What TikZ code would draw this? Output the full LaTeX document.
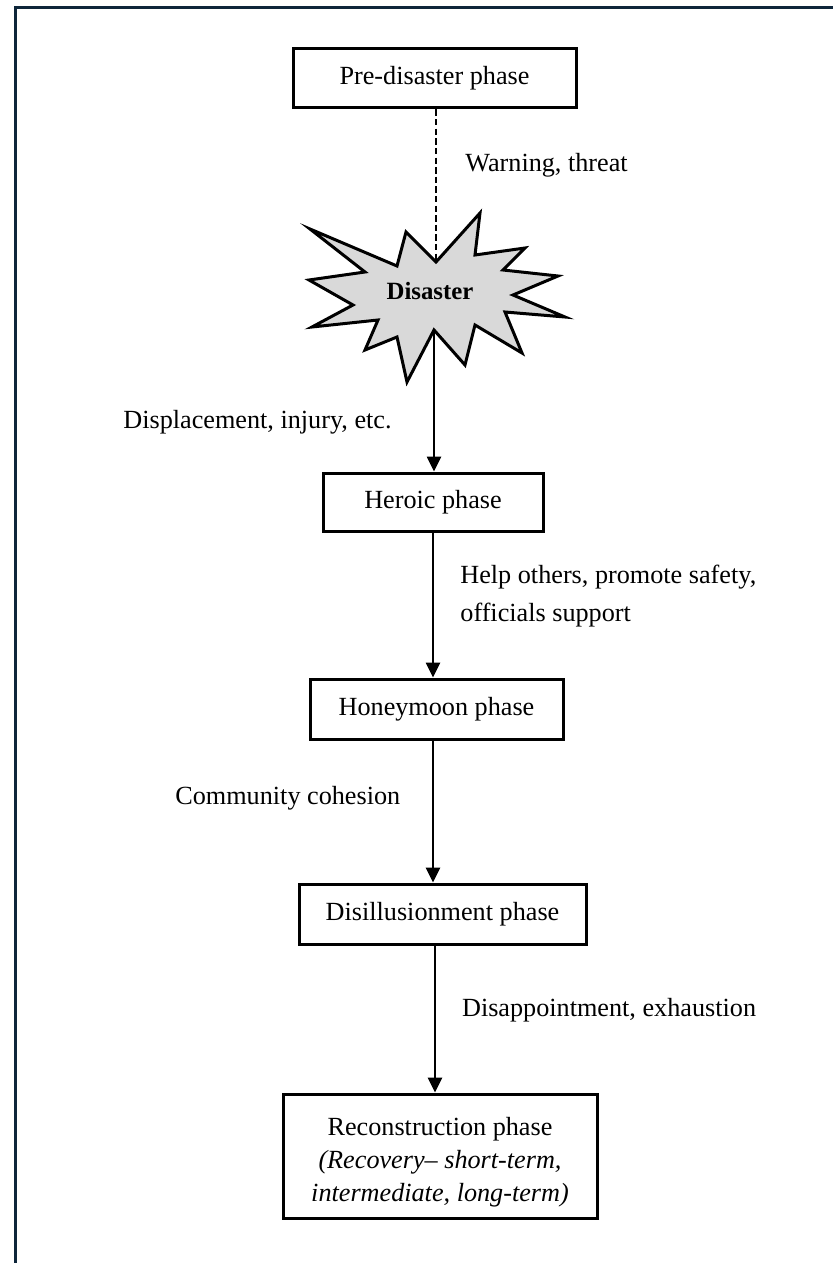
\documentclass[tikz,border=0pt]{standalone}
\usepackage{fontspec}
\setmainfont{Liberation Serif}
\usetikzlibrary{arrows.meta,calc}
\definecolor{framenavy}{RGB}{14,38,58}
\definecolor{burstgray}{RGB}{217,217,217}

\begin{document}
\begin{tikzpicture}[x=0.5pt,y=-0.5pt,
  phase/.style={draw,line width=1.5pt,inner sep=0pt,align=center,
    font=\fontsize{13.1}{16}\selectfont},
  lbl/.style={inner sep=0pt,anchor=base west,align=left,
    font=\fontsize{13.1}{19}\selectfont},
  flow/.style={line width=1.3pt,-{Triangle[width=7pt,length=7.5pt]}},
  warn/.style={line width=1.1pt,dash pattern=on 3.2pt off 1.6pt}]
\useasboundingbox (0,0) rectangle (832,1263);

% page frame (top and left rules)
\draw[framenavy,line width=1.5pt] (15,1263) -- (15,8) -- (833,8);

% phase boxes
\node[phase,minimum width=141.5pt,minimum height=29.5pt] (pre) at (434.5,78.5) {Pre-disaster phase};
\node[phase,minimum width=110pt,minimum height=29pt] (heroic) at (433,502) {Heroic phase};
\node[phase,minimum width=126.5pt,minimum height=30pt] (honey) at (436.5,709) {Honeymoon phase};
\node[phase,minimum width=143.5pt,minimum height=30pt] (disill) at (442.5,914) {Disillusionment phase};
\node[phase,minimum width=157pt,minimum height=62pt,font=\fontsize{13.1}{16.5}\selectfont] (recon) at (440,1156)
  {\rule{0pt}{15pt}Reconstruction phase\\\textit{(Recovery-- short-term,}\\\textit{intermediate, long-term)}};

% disaster starburst
\filldraw[fill=burstgray,draw=black,line width=1.5pt,line join=miter]
  (436,262) -- (480,213) -- (475,255) -- (525,248) -- (503,270) -- (558,276)
  -- (513,295) -- (565,317) -- (505,312) -- (522,353) -- (475,325) -- (465,365)
  -- (434,330) -- (407,382) -- (397,337) -- (365,350) -- (378,320) -- (312,327)
  -- (353,305) -- (309,280) -- (365,272) -- (310,229) -- (397,266) -- (406,232)
  -- cycle;
\node[inner sep=0pt,anchor=base,font=\bfseries\fontsize{12.4}{15}\selectfont] (star) at (430,299.3) {Disaster};
\coordinate (burstin) at (436,262);
\coordinate (burstout) at (434,331);

% connectors
\coordinate (spine) at (433,0);
\coordinate (lowspine) at (435,0);
\draw[warn] (pre.south -| burstin) -- (burstin);
\draw[flow] (burstout) -- (heroic.north -| burstout);
\draw[flow] (heroic.south -| spine) -- (honey.north -| spine);
\draw[flow] (honey.south -| spine) -- (disill.north -| spine);
\draw[flow] (disill.south -| lowspine) -- (recon.north -| lowspine);

% connector labels
\node[lbl] (warnlbl) at (465,171.7) {Warning, threat};
\node[lbl] (displbl) at (123,428.3) {Displacement, injury, etc.};
\node[lbl] (helplbl) at (460,621) {Help others, promote safety,\\officials support};
\node[lbl] (cohlbl) at (175,804) {Community cohesion};
\node[lbl] (exhlbl) at (461.7,1016) {Disappointment, exhaustion};
\end{tikzpicture}
\end{document}
